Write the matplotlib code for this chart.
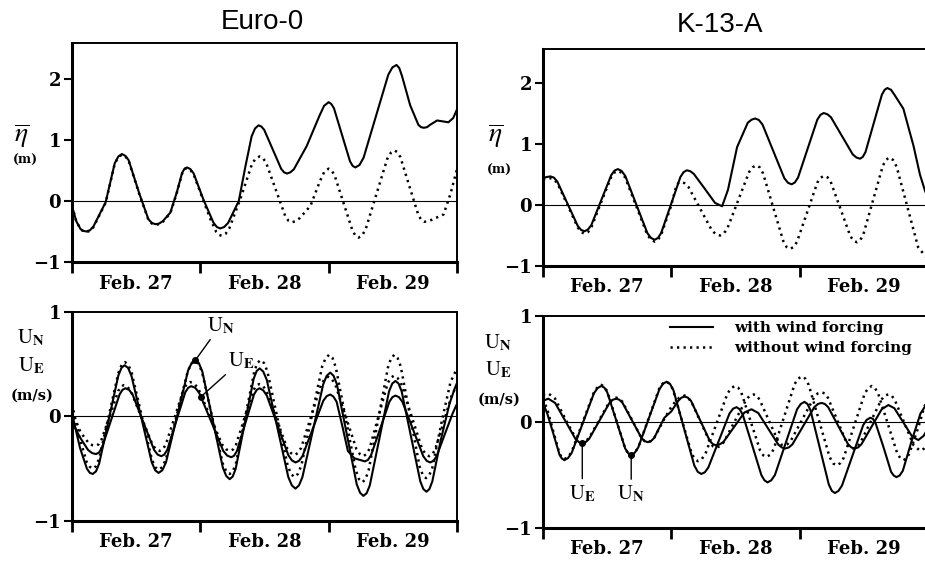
import matplotlib
matplotlib.use("Agg")
import matplotlib.pyplot as plt
import numpy as np

plt.rcParams["mathtext.fontset"] = "stix"

# time axis: hours after the start of Feb. 27
DAY_TICKS = [0, 24, 48, 72]
DAY_MID = [12, 36, 60]
DAY_LABELS = ["Feb. 27", "Feb. 28", "Feb. 29"]

# --- Euro-0, surface elevation (m) ---
EURO_ETA_WIND = [(0, -0.08), (0.8, -0.33), (1.6, -0.46), (2.15, -0.49), (2.7, -0.50), (3.35, -0.48),
                 (4.0, -0.42), (6.3, -0.02), (8.0, 0.62), (8.68, 0.73), (9.35, 0.77), (9.98, 0.74),
                 (10.6, 0.67), (12.6, 0.12), (14.3, -0.30), (14.95, -0.36), (15.6, -0.38), (16.3, -0.37),
                 (17.0, -0.33), (18.4, -0.19), (19.6, 0.14), (20.6, 0.46), (21.05, 0.53), (21.5, 0.55),
                 (22.12, 0.525), (22.74, 0.455), (24.6, 0.02), (26.46, -0.355), (27.08, -0.425), (27.7, -0.45),
                 (28.45, -0.427), (29.2, -0.36), (31.2, 0.0), (32.4, 0.55), (33.6, 1.06), (34.25, 1.19),
                 (34.9, 1.24), (35.43, 1.22), (35.96, 1.165), (37.55, 0.845), (39.14, 0.525), (39.67, 0.47),
                 (40.2, 0.45), (40.85, 0.47), (41.5, 0.52), (43.9, 0.90), (46.3, 1.40), (47.15, 1.56),
                 (48.0, 1.62), (48.5, 1.59), (49.0, 1.52), (50.5, 1.085), (52.0, 0.65), (52.5, 0.575),
                 (53.0, 0.55), (53.77, 0.59), (54.54, 0.71), (56.85, 1.39), (59.16, 2.07), (59.93, 2.19),
                 (60.7, 2.23), (61.21, 2.18), (61.72, 2.05), (63.25, 1.57), (64.78, 1.25), (65.29, 1.21),
                 (65.8, 1.20), (66.4, 1.21), (67.0, 1.25), (68.3, 1.32), (70.4, 1.29), (71.3, 1.36),
                 (72, 1.50)]
EURO_ETA_CALM = [(0, -0.08), (0.8, -0.33), (1.6, -0.46), (2.15, -0.50), (2.7, -0.51), (3.35, -0.49),
                 (4.0, -0.43), (6.3, -0.03), (8.0, 0.61), (8.68, 0.72), (9.35, 0.76), (9.98, 0.73),
                 (10.6, 0.66), (12.6, 0.11), (14.3, -0.31), (14.95, -0.37), (15.6, -0.39), (16.3, -0.38),
                 (17.0, -0.34), (18.4, -0.20), (19.6, 0.13), (20.6, 0.45), (21.05, 0.52), (21.5, 0.54),
                 (22.12, 0.51), (22.74, 0.44), (24.6, 0.0), (25.9, -0.30), (27.0, -0.51), (27.5, -0.555),
                 (28.0, -0.57), (28.71, -0.54), (29.42, -0.45), (31.55, 0.05), (33.68, 0.61), (34.39, 0.70),
                 (35.1, 0.73), (35.7, 0.705), (36.3, 0.63), (38.1, 0.19), (39.9, -0.25), (40.5, -0.325),
                 (41.1, -0.35), (41.85, -0.33), (42.6, -0.28), (44.6, -0.08), (46.4, 0.33), (47.2, 0.48),
                 (48.0, 0.53), (48.56, 0.50), (49.12, 0.42), (50.8, -0.035), (52.48, -0.49), (53.04, -0.57),
                 (53.6, -0.60), (54.27, -0.565), (54.94, -0.46), (56.95, 0.115), (58.96, 0.69), (59.63, 0.79),
                 (60.3, 0.83), (60.86, 0.80), (61.42, 0.72), (63.1, 0.245), (64.78, -0.23), (65.34, -0.31),
                 (65.9, -0.34), (66.7, -0.33), (67.5, -0.30), (69.5, -0.22), (70.8, 0.12), (72, 0.52)]

# --- K-13-A, surface elevation (m) ---
K13_ETA_WIND = [(0, 0.44), (0.7, 0.46), (1.4, 0.47), (2.04, 0.45), (2.68, 0.385), (4.6, 0.02),
                (6.52, -0.345), (7.16, -0.41), (7.8, -0.43), (8.42, -0.40), (9.04, -0.33), (10.9, 0.08),
                (12.76, 0.49), (13.38, 0.565), (14.0, 0.59), (14.69, 0.56), (15.38, 0.48), (17.45, 0.01),
                (19.52, -0.46), (20.21, -0.54), (20.9, -0.57), (21.5, -0.54), (22.1, -0.46), (23.9, 0.0),
                (25.7, 0.46), (26.3, 0.54), (26.9, 0.57), (27.56, 0.555), (28.22, 0.51), (30.2, 0.275),
                (32.18, 0.035), (33.5, -0.02), (34.6, 0.25), (36.3, 0.95), (38.3, 1.35), (39.0, 1.40),
                (39.7, 1.42), (40.38, 1.395), (41.06, 1.32), (43.1, 0.88), (45.14, 0.44), (45.82, 0.365),
                (46.5, 0.34), (47.1, 0.37), (47.7, 0.45), (49.5, 0.925), (51.3, 1.40), (51.9, 1.48),
                (52.5, 1.51), (53.18, 1.49), (53.86, 1.44), (55.9, 1.135), (57.94, 0.83), (58.62, 0.78),
                (59.3, 0.76), (59.81, 0.79), (60.32, 0.87), (61.85, 1.34), (63.38, 1.81), (63.89, 1.89),
                (64.4, 1.92), (65.1, 1.89), (65.8, 1.80), (67.4, 1.58), (69.3, 0.97), (70.5, 0.50),
                (71.5, 0.22), (72, 0.15)]
K13_ETA_CALM = [(0, 0.42), (0.7, 0.435), (1.4, 0.44), (2.04, 0.42), (2.68, 0.36), (4.6, 0.0),
                (6.52, -0.37), (7.16, -0.445), (7.8, -0.47), (8.42, -0.445), (9.04, -0.37), (10.9, 0.05),
                (12.76, 0.46), (13.38, 0.535), (14.0, 0.56), (14.69, 0.53), (15.38, 0.45), (17.45, -0.02),
                (19.52, -0.49), (20.21, -0.57), (20.9, -0.60), (21.5, -0.57), (22.1, -0.49), (23.9, -0.03),
                (24.9, 0.30), (25.3, 0.36), (25.7, 0.38), (26.44, 0.36), (27.18, 0.30), (29.4, -0.06),
                (31.62, -0.42), (32.36, -0.48), (33.1, -0.50), (33.78, -0.47), (34.46, -0.39), (36.5, 0.075),
                (38.54, 0.54), (39.22, 0.62), (39.9, 0.65), (40.53, 0.62), (41.16, 0.52), (43.05, -0.035),
                (44.94, -0.59), (45.57, -0.69), (46.2, -0.72), (46.84, -0.69), (47.48, -0.61), (49.4, -0.12),
                (51.32, 0.37), (51.96, 0.45), (52.6, 0.48), (53.21, 0.455), (53.82, 0.38), (55.65, -0.065),
                (57.48, -0.51), (58.09, -0.585), (58.7, -0.61), (59.31, -0.58), (59.92, -0.48), (61.75, 0.085),
                (63.58, 0.65), (64.19, 0.745), (64.8, 0.78), (65.47, 0.74), (66.14, 0.63), (68.15, -0.03),
                (70.16, -0.69), (71.5, -0.84), (72, -0.87)]

# --- Euro-0, currents (m/s) ---
EURO_UN_WIND = [(0, 0.03), (1.5, -0.30), (2.8, -0.50), (3.35, -0.54), (3.9, -0.55), (4.5, -0.525),
                (5.09, -0.45), (6.88, -0.03), (8.66, 0.39), (9.26, 0.465), (9.85, 0.49), (10.49, 0.465),
                (11.12, 0.39), (13.03, -0.025), (14.93, -0.44), (15.57, -0.515), (16.2, -0.54), (16.89, -0.515),
                (17.58, -0.44), (19.65, 0.0), (21.72, 0.44), (22.41, 0.515), (23.1, 0.54), (23.74, 0.51),
                (24.38, 0.43), (26.3, -0.03), (28.22, -0.49), (28.86, -0.57), (29.5, -0.60), (30.06, -0.575),
                (30.62, -0.50), (32.3, -0.07), (33.98, 0.36), (34.54, 0.435), (35.1, 0.46), (35.77, 0.43),
                (36.44, 0.35), (38.45, -0.115), (40.46, -0.58), (41.13, -0.66), (41.8, -0.69), (42.45, -0.66),
                (43.1, -0.58), (45.05, -0.135), (47.0, 0.31), (47.65, 0.39), (48.3, 0.42), (48.92, 0.39),
                (49.54, 0.31), (51.4, -0.17), (53.26, -0.65), (53.88, -0.73), (54.5, -0.76), (55.1, -0.735),
                (55.7, -0.66), (57.5, -0.21), (59.3, 0.24), (59.9, 0.315), (60.5, 0.34), (61.08, 0.315),
                (61.66, 0.24), (63.4, -0.19), (65.14, -0.62), (65.72, -0.695), (66.3, -0.72), (66.85, -0.695),
                (67.4, -0.62), (69.0, -0.22), (70.6, 0.12), (71.6, 0.27), (72, 0.32)]
EURO_UN_CALM = [(0, 0.12), (1.3, -0.18), (2.7, -0.43), (3.3, -0.48), (3.9, -0.50), (4.5, -0.475),
                (5.1, -0.40), (6.9, 0.01), (8.7, 0.42), (9.3, 0.495), (9.9, 0.52), (10.53, 0.495),
                (11.16, 0.42), (13.05, 0.005), (14.94, -0.41), (15.57, -0.485), (16.2, -0.51), (16.88, -0.485),
                (17.56, -0.41), (19.6, 0.01), (21.64, 0.43), (22.32, 0.505), (23.0, 0.53), (23.65, 0.505),
                (24.3, 0.43), (26.25, -0.01), (28.2, -0.45), (28.85, -0.525), (29.5, -0.55), (30.08, -0.525),
                (30.66, -0.45), (32.4, -0.005), (34.14, 0.44), (34.72, 0.515), (35.3, 0.54), (35.93, 0.51),
                (36.56, 0.43), (38.45, -0.02), (40.34, -0.47), (40.97, -0.55), (41.6, -0.58), (42.25, -0.55),
                (42.9, -0.47), (44.85, 0.005), (46.8, 0.48), (47.45, 0.56), (48.1, 0.59), (48.72, 0.56),
                (49.34, 0.47), (51.2, -0.02), (53.06, -0.51), (53.68, -0.60), (54.3, -0.63), (54.9, -0.60),
                (55.5, -0.51), (57.3, -0.02), (59.1, 0.47), (59.7, 0.56), (60.3, 0.59), (60.89, 0.56),
                (61.48, 0.48), (63.25, 0.0), (65.02, -0.48), (65.61, -0.56), (66.2, -0.59), (66.8, -0.565),
                (67.4, -0.49), (69.1, -0.06), (70.8, 0.33), (72, 0.46)]
EURO_UE_WIND = [(0, -0.05), (1.5, -0.20), (3.0, -0.32), (3.75, -0.35), (4.5, -0.36), (5.05, -0.345),
                (5.6, -0.30), (7.25, -0.045), (8.9, 0.21), (9.45, 0.255), (10.0, 0.27), (10.67, 0.255),
                (11.34, 0.21), (13.35, -0.055), (15.36, -0.32), (16.03, -0.365), (16.7, -0.38), (17.26, -0.365),
                (17.82, -0.32), (19.5, -0.045), (21.18, 0.23), (21.74, 0.275), (22.3, 0.29), (23.05, 0.275),
                (23.8, 0.225), (26.05, -0.05), (28.3, -0.33), (29.05, -0.375), (29.8, -0.39), (30.33, -0.375),
                (30.86, -0.33), (32.45, -0.06), (34.04, 0.21), (34.57, 0.255), (35.1, 0.27), (35.77, 0.25),
                (36.44, 0.20), (38.45, -0.085), (40.46, -0.37), (41.13, -0.42), (41.8, -0.44), (42.45, -0.425),
                (43.1, -0.38), (45.05, -0.115), (47.0, 0.15), (47.65, 0.195), (48.3, 0.21), (48.9, 0.19),
                (49.5, 0.14), (50.6, -0.10), (51.6, -0.33), (52.8, -0.40), (54.8, -0.43), (55.37, -0.415),
                (55.94, -0.37), (57.65, -0.115), (59.36, 0.14), (59.93, 0.185), (60.5, 0.20), (61.15, 0.185),
                (61.8, 0.14), (63.75, -0.12), (65.7, -0.38), (66.35, -0.425), (67.0, -0.44), (67.6, -0.425),
                (68.2, -0.38), (69.8, -0.16), (71.2, 0.03), (72, 0.12)]
EURO_UE_CALM = [(0, 0.05), (1.6, -0.15), (3.2, -0.26), (3.85, -0.275), (4.5, -0.28), (5.02, -0.265),
                (5.54, -0.22), (7.1, 0.01), (8.66, 0.245), (9.18, 0.285), (9.7, 0.30), (10.37, 0.285),
                (11.04, 0.24), (13.05, -0.015), (15.06, -0.27), (15.73, -0.315), (16.4, -0.33), (16.97, -0.315),
                (17.54, -0.27), (19.25, 0.0), (20.96, 0.27), (21.53, 0.315), (22.1, 0.33), (22.85, 0.315),
                (23.6, 0.27), (25.85, 0.0), (28.1, -0.27), (28.85, -0.315), (29.6, -0.33), (30.14, -0.315),
                (30.68, -0.27), (32.3, -0.01), (33.92, 0.25), (34.46, 0.295), (35.0, 0.31), (35.66, 0.295),
                (36.32, 0.25), (38.3, -0.03), (40.28, -0.31), (40.94, -0.35), (41.6, -0.37), (42.23, -0.35),
                (42.86, -0.30), (44.75, 0.005), (46.64, 0.31), (47.27, 0.36), (47.9, 0.38), (48.56, 0.36),
                (49.22, 0.31), (51.2, 0.0), (53.18, -0.31), (53.84, -0.36), (54.5, -0.38), (55.07, -0.36),
                (55.64, -0.31), (57.35, 0.005), (59.06, 0.32), (59.63, 0.37), (60.2, 0.39), (60.86, 0.37),
                (61.52, 0.32), (63.5, 0.005), (65.48, -0.31), (66.14, -0.36), (66.8, -0.38), (67.35, -0.365),
                (67.9, -0.32), (69.6, -0.04), (71.0, 0.20), (72, 0.30)]

# --- K-13-A, currents (m/s) ---
K13_UN_WIND = [(0, 0.18), (0.8, 0.08), (2.0, -0.12), (3.1, -0.31), (3.55, -0.345), (4.0, -0.36),
               (4.69, -0.34), (5.38, -0.29), (7.45, -0.01), (9.52, 0.27), (10.21, 0.32), (10.9, 0.34),
               (11.46, 0.325), (12.02, 0.28), (13.7, 0.015), (15.38, -0.25), (15.94, -0.295), (16.5, -0.31),
               (17.16, -0.29), (17.82, -0.24), (19.8, 0.035), (21.78, 0.31), (22.44, 0.36), (23.1, 0.38),
               (23.75, 0.36), (24.4, 0.30), (26.35, -0.055), (28.3, -0.41), (28.95, -0.47), (29.6, -0.49),
               (30.26, -0.475), (30.92, -0.43), (32.9, -0.175), (34.88, 0.08), (35.54, 0.125), (36.2, 0.14),
               (36.78, 0.12), (37.36, 0.07), (39.1, -0.215), (40.84, -0.50), (41.42, -0.55), (42.0, -0.57),
               (42.69, -0.55), (43.38, -0.50), (45.45, -0.19), (47.52, 0.12), (48.21, 0.17), (48.9, 0.19),
               (49.47, 0.17), (50.04, 0.11), (51.75, -0.24), (53.46, -0.59), (54.03, -0.65), (54.6, -0.67),
               (55.26, -0.65), (55.92, -0.60), (57.9, -0.315), (59.88, -0.03), (60.54, 0.02), (61.2, 0.04),
               (61.7, 0.03), (62.2, -0.01), (63.7, -0.24), (65.1, -0.47), (65.6, -0.505), (66.1, -0.52),
               (66.7, -0.505), (67.3, -0.46), (69.0, -0.17), (70.6, 0.08), (72, 0.19)]
K13_UN_CALM = [(0, 0.22), (0.8, 0.12), (2.0, -0.10), (3.1, -0.30), (3.55, -0.335), (4.0, -0.35),
               (4.69, -0.33), (5.38, -0.28), (7.45, 0.0), (9.52, 0.28), (10.21, 0.33), (10.9, 0.35),
               (11.46, 0.335), (12.02, 0.29), (13.7, 0.02), (15.38, -0.25), (15.94, -0.295), (16.5, -0.31),
               (17.16, -0.29), (17.82, -0.24), (19.8, 0.04), (21.78, 0.32), (22.44, 0.365), (23.1, 0.38),
               (23.69, 0.36), (24.28, 0.31), (26.05, 0.005), (27.82, -0.30), (28.41, -0.35), (29.0, -0.37),
               (29.69, -0.35), (30.38, -0.30), (32.45, -0.015), (34.52, 0.27), (35.21, 0.32), (35.9, 0.34),
               (36.49, 0.325), (37.08, 0.28), (38.85, 0.005), (40.62, -0.27), (41.21, -0.315), (41.8, -0.33),
               (42.46, -0.31), (43.12, -0.26), (45.1, 0.05), (47.08, 0.36), (47.74, 0.41), (48.4, 0.43),
               (49.05, 0.41), (49.7, 0.35), (51.65, 0.01), (53.6, -0.33), (54.25, -0.39), (54.9, -0.41),
               (55.56, -0.39), (56.22, -0.34), (58.2, -0.035), (60.18, 0.27), (60.84, 0.32), (61.5, 0.34),
               (62.09, 0.32), (62.68, 0.27), (64.45, -0.01), (66.22, -0.29), (66.81, -0.34), (67.4, -0.36),
               (67.95, -0.345), (68.5, -0.30), (70.2, -0.05), (71.3, 0.14), (72, 0.22)]
K13_UE_WIND = [(0, 0.20), (1.0, 0.22), (2.27, 0.18), (4.18, 0.01), (6.08, -0.16), (6.72, -0.19),
               (7.35, -0.20), (7.98, -0.19), (8.62, -0.16), (10.53, 0.01), (12.43, 0.18), (13.07, 0.21),
               (13.7, 0.22), (14.29, 0.21), (14.88, 0.18), (16.65, 0.015), (18.42, -0.15), (19.01, -0.18),
               (19.6, -0.19), (20.2, -0.18), (20.8, -0.15), (22.7, 0.04), (24.0, 0.10), (25.3, 0.20),
               (25.9, 0.23), (26.5, 0.24), (27.09, 0.23), (27.68, 0.20), (29.45, 0.01), (31.22, -0.18),
               (31.81, -0.21), (32.4, -0.22), (33.06, -0.21), (33.72, -0.19), (35.7, -0.05), (37.68, 0.09),
               (39.0, 0.12), (40.26, 0.085), (42.15, -0.065), (44.04, -0.215), (44.67, -0.24), (45.3, -0.25),
               (45.98, -0.24), (46.66, -0.21), (48.7, -0.035), (50.74, 0.14), (51.42, 0.17), (52.1, 0.18),
               (52.72, 0.17), (53.34, 0.14), (55.2, -0.035), (57.06, -0.21), (57.68, -0.24), (58.3, -0.25),
               (58.93, -0.24), (59.56, -0.21), (61.45, -0.045), (63.34, 0.12), (64.6, 0.16), (65.72, 0.13),
               (67.4, -0.005), (69.08, -0.14), (70.2, -0.17), (71.2, -0.13), (72, -0.06)]
K13_UE_CALM = [(0, 0.26), (1.0, 0.27), (2.27, 0.22), (4.18, 0.03), (6.08, -0.15), (6.72, -0.18),
               (7.35, -0.19), (7.98, -0.18), (8.62, -0.15), (10.53, 0.02), (12.43, 0.19), (13.07, 0.22),
               (13.7, 0.23), (14.29, 0.22), (14.88, 0.19), (16.65, 0.02), (18.42, -0.15), (19.01, -0.18),
               (19.6, -0.19), (20.2, -0.18), (20.8, -0.15), (22.7, 0.03), (24.2, 0.16), (25.5, 0.23),
               (26.5, 0.25), (27.68, 0.20), (29.45, 0.005), (31.22, -0.19), (31.81, -0.23), (32.4, -0.24),
               (33.1, -0.23), (33.8, -0.19), (35.9, 0.01), (38.0, 0.21), (38.7, 0.25), (39.4, 0.26),
               (39.96, 0.25), (40.52, 0.21), (42.2, 0.02), (43.88, -0.17), (44.44, -0.21), (45.0, -0.22),
               (45.71, -0.21), (46.42, -0.17), (48.55, 0.03), (50.68, 0.23), (51.39, 0.27), (52.1, 0.28),
               (52.69, 0.27), (53.28, 0.23), (55.05, 0.015), (56.82, -0.20), (57.41, -0.24), (58.0, -0.25),
               (58.66, -0.24), (59.32, -0.20), (61.3, 0.005), (63.28, 0.21), (63.94, 0.25), (64.6, 0.26),
               (65.19, 0.25), (65.78, 0.21), (67.55, -0.005), (69.32, -0.22), (70.5, -0.27), (71.3, -0.25),
               (72, -0.20)]

# hours at which the U_N / U_E curves are labelled
EURO_UN_MARK, EURO_UE_MARK = 23.1, 24.1
K13_UE_MARK, K13_UN_MARK = 7.35, 16.5

SERIF = "DejaVu Serif"
DOT = (0, (0.9, 1.7))


def series(pairs):
    arr = np.array(pairs)
    return arr[:, 0], arr[:, 1]


def style_axes(ax, ylim):
    ax.set_xlim(0, 72)
    ax.set_ylim(*ylim)
    ax.axhline(0, color="black", lw=0.8, zorder=1)
    ax.set_xticks(DAY_TICKS)
    ax.set_xticklabels([])
    ax.set_xticks(DAY_MID, minor=True)
    ax.set_xticklabels(DAY_LABELS, minor=True, fontfamily=SERIF, fontweight="bold", fontsize=13)
    ax.tick_params(axis="x", which="major", direction="out", length=8, width=2)
    ax.tick_params(axis="x", which="minor", length=0, pad=9)
    ax.tick_params(axis="y", direction="out", length=6, width=1.5, pad=2, labelsize=13)
    for lab in ax.get_yticklabels():
        lab.set_fontfamily(SERIF)
        lab.set_fontweight("bold")
    for s in ["left", "bottom"]:
        ax.spines[s].set_linewidth(2.2)
    for s in ["top", "right"]:
        ax.spines[s].set_linewidth(1.4)


def draw(ax, wind, calm):
    t, y = series(wind)
    ax.plot(t, y, color="black", lw=1.5, solid_joinstyle="round")
    t, y = series(calm)
    ax.plot(t, y, color="black", lw=1.8, ls=DOT)


def mark(ax, pairs, hour, label, offset):
    t, y = series(pairs)
    yv = np.interp(hour, t, y)
    ax.plot([hour], [yv], "o", color="black", ms=4, zorder=5)
    ax.annotate(label, xy=(hour, yv), xytext=offset, textcoords="offset points",
                ha="center", va="center", fontsize=15,
                arrowprops=dict(arrowstyle="-", lw=1.0, color="black", shrinkA=1, shrinkB=0))


fig = plt.figure(figsize=(9.25, 5.62), dpi=100, facecolor="white")

ax_tl = fig.add_axes([0.0778, 0.5338, 0.4162, 0.3897])
ax_tr = fig.add_axes([0.5870, 0.5267, 0.4162, 0.3861])
ax_bl = fig.add_axes([0.0778, 0.0730, 0.4162, 0.3719])
ax_br = fig.add_axes([0.5870, 0.0605, 0.4162, 0.3772])

for ax in (ax_tl, ax_tr):
    ax.set_yticks([-1, 0, 1, 2])
for ax in (ax_bl, ax_br):
    ax.set_yticks([-1, 0, 1])

draw(ax_tl, EURO_ETA_WIND, EURO_ETA_CALM)
draw(ax_tr, K13_ETA_WIND, K13_ETA_CALM)
draw(ax_bl, EURO_UN_WIND, EURO_UN_CALM)
draw(ax_bl, EURO_UE_WIND, EURO_UE_CALM)
draw(ax_br, K13_UN_WIND, K13_UN_CALM)
draw(ax_br, K13_UE_WIND, K13_UE_CALM)

style_axes(ax_tl, (-1, 2.59))
style_axes(ax_tr, (-1, 2.56))
style_axes(ax_bl, (-1, 1))
style_axes(ax_br, (-1, 1))

UN = r"$\mathrm{U}_{\mathbf{N}}$"
UE = r"$\mathrm{U}_{\mathbf{E}}$"

mark(ax_bl, EURO_UN_WIND, EURO_UN_MARK, UN, (18, 25))
mark(ax_bl, EURO_UE_WIND, EURO_UE_MARK, UE, (29, 26))
mark(ax_br, K13_UE_WIND, K13_UE_MARK, UE, (0, -36))
mark(ax_br, K13_UN_WIND, K13_UN_MARK, UN, (0, -28))

# legend in the lower right panel
h_wind, = ax_br.plot([], [], color="black", lw=1.5, label="with wind forcing")
h_calm, = ax_br.plot([], [], color="black", lw=1.8, ls=DOT, label="without wind forcing")
ax_br.legend(handles=[h_wind, h_calm], loc="upper left", bbox_to_anchor=(0.33, 0.975),
             frameon=False, borderpad=0, borderaxespad=0, handlelength=2.8,
             handletextpad=1.4, labelspacing=0.4,
             prop={"family": SERIF, "weight": "bold", "size": 11})

# titles and y-axis labels
fig.text(262 / 925, 1 - 22 / 562, "Euro-0", ha="center", va="center",
         fontsize=20, family="Liberation Sans")
fig.text(720 / 925, 1 - 25 / 562, "K-13-A", ha="center", va="center",
         fontsize=20, family="Liberation Sans")

for x_eta, y_eta, y_m in [(22, 136, 160), (496, 136, 170)]:
    fig.text(x_eta / 925, 1 - y_eta / 562, r"$\overline{\eta}$", ha="center", va="center", fontsize=20)
    fig.text((x_eta + 3) / 925, 1 - y_m / 562, "(m)", ha="center", va="center",
             fontsize=9, family=SERIF, fontweight="bold")

for x_u, y_n, y_e, y_ms in [(31, 338, 366, 396), (498, 343, 370, 400)]:
    fig.text(x_u / 925, 1 - y_n / 562, UN, ha="center", va="center", fontsize=15)
    fig.text(x_u / 925, 1 - y_e / 562, UE, ha="center", va="center", fontsize=15)
    fig.text((x_u + 1) / 925, 1 - y_ms / 562, "(m/s)", ha="center", va="center",
             fontsize=10.5, family=SERIF, fontweight="bold")

fig.savefig("out.png", dpi=100, facecolor="white")
